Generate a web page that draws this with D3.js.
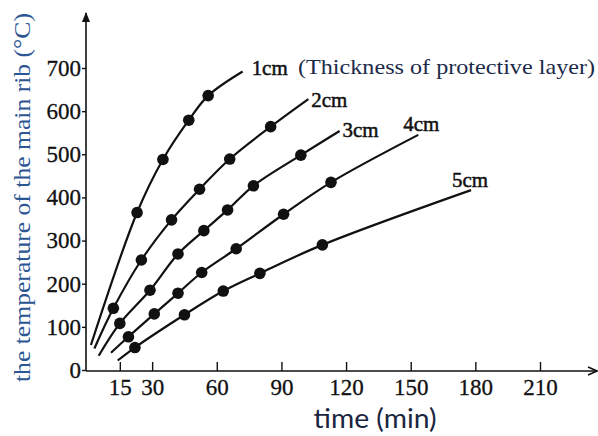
<!DOCTYPE html>
<html>
<head>
<meta charset="utf-8">
<script src="https://cdn.jsdelivr.net/npm/d3@7"></script>
<style>
  html, body { margin: 0; padding: 0; background: #fff; }
  svg { display: block; }
</style>
</head>
<body>
<svg id="chart" width="598" height="436"></svg>
<script>
// ---- data (time in min, temperature in °C) ----
const thickness = ["1cm", "2cm", "3cm", "4cm", "5cm"];
const dotTimes = [
  [23, 35, 47, 56],
  [12, 25, 39, 52, 66, 85],
  [15, 29, 42, 54, 65, 77, 99],
  [19, 31, 42, 53, 69, 91, 113],
  [22, 45, 63, 80, 109]
];
const dotTemps = [
  [365, 488, 579, 636],
  [143, 255, 348, 419, 489, 564],
  [108, 185, 269, 323, 371, 427, 498],
  [77, 130, 178, 226, 281, 361, 435],
  [52, 128, 183, 224, 290]
];
const curveStartTime = [1.6, 3.2, 5.2, 10.9, 14];
const curveStartTemp = [58, 50, 33, 40, 22];
const curveEndTime = [72, 102.5, 117, 153.5, 178];
const curveEndTemp = [692, 628, 554, 545, 417];
const xTicks = [15, 30, 60, 90, 120, 150, 180, 210];
const yTicks = [0, 100, 200, 300, 400, 500, 600, 700];
const xTitle = "time (min)";
const yTitle = "the temperature of the main rib (°C)";
const noteText = "(Thickness of protective layer)";

// ---- layout ----
const svg = d3.select("#chart");
const x = d3.scaleLinear().domain([0, 210]).range([87.5, 540]);
const y = d3.scaleLinear().domain([0, 700]).range([370, 68]);
const axisX = 86, axisY = 371;
const serif = "'Liberation Serif', 'Times New Roman', serif";
const labelOffsets = [[9, 4], [3, 8], [3, 6], [-15, -4], [-19, -3]];

// axes lines with arrows
svg.append("line").attr("x1", axisX).attr("y1", axisY).attr("x2", axisX).attr("y2", 13)
  .attr("stroke", "#111").attr("stroke-width", 1.6);
svg.append("path").attr("d", `M${axisX-4},${22} L${axisX},${12} L${axisX+4},${22} Z`)
  .attr("fill", "#111");
svg.append("line").attr("x1", axisX).attr("y1", axisY).attr("x2", 596).attr("y2", axisY)
  .attr("stroke", "#111").attr("stroke-width", 1.6);
svg.append("path").attr("d", `M${588},${axisY-4} L${597},${axisY} L${588},${axisY+4}`)
  .attr("fill", "none").attr("stroke", "#111").attr("stroke-width", 1.5);

// x axis
const gx = svg.append("g").attr("transform", `translate(0,${axisY})`)
  .call(d3.axisBottom(x).tickValues(xTicks).tickSizeInner(-9).tickSizeOuter(0).tickPadding(8));
gx.select(".domain").remove();
gx.selectAll(".tick line").attr("stroke", "#111").attr("stroke-width", 1.4);
gx.selectAll(".tick text").attr("font-family", serif).attr("font-size", 23)
  .attr("fill", "#111").attr("stroke", "#111").attr("stroke-width", 0.3);

// y axis
const gy = svg.append("g").attr("transform", `translate(${axisX},0)`)
  .call(d3.axisLeft(y).tickValues(yTicks).tickSizeInner(4).tickSizeOuter(0).tickPadding(1));
gy.select(".domain").remove();
gy.selectAll(".tick line").attr("stroke", "#111").attr("stroke-width", 1.4);
gy.selectAll(".tick text").attr("font-family", serif).attr("font-size", 23)
  .attr("fill", "#111").attr("stroke", "#111").attr("stroke-width", 0.3);

// curves
const line = d3.line().x(d => x(d[0])).y(d => y(d[1])).curve(d3.curveCatmullRom.alpha(0.5));
thickness.forEach((name, i) => {
  const pts = [[curveStartTime[i], curveStartTemp[i]]]
    .concat(dotTimes[i].map((t, j) => [t, dotTemps[i][j]]))
    .concat([[curveEndTime[i], curveEndTemp[i]]]);
  svg.append("path").datum(pts).attr("d", line)
    .attr("fill", "none").attr("stroke", "#111").attr("stroke-width", 2.2);
  svg.append("g").selectAll("circle")
    .data(dotTimes[i].map((t, j) => [t, dotTemps[i][j]]))
    .join("circle")
    .attr("cx", d => x(d[0])).attr("cy", d => y(d[1])).attr("r", 5.8).attr("fill", "#111");
  svg.append("text")
    .attr("x", x(curveEndTime[i]) + labelOffsets[i][0])
    .attr("y", y(curveEndTemp[i]) + labelOffsets[i][1])
    .attr("font-family", serif).attr("font-size", 21)
    .attr("fill", "#111").attr("stroke", "#111").attr("stroke-width", 0.5)
    .attr("textLength", 36).attr("lengthAdjust", "spacingAndGlyphs")
    .text(name);
});

// note text
svg.append("text").attr("x", 298).attr("y", 74)
  .attr("font-family", serif).attr("font-size", 22).attr("fill", "#1c2b4a")
  .attr("textLength", 297).attr("lengthAdjust", "spacingAndGlyphs")
  .text(noteText);

// axis titles
svg.append("text").attr("x", 375).attr("y", 428).attr("text-anchor", "middle")
  .attr("font-family", "Lato, 'Open Sans', sans-serif").attr("font-size", 26)
  .attr("fill", "#1a2540").attr("textLength", 123).attr("lengthAdjust", "spacingAndGlyphs")
  .text(xTitle);
svg.append("text").attr("transform", "translate(30,382) rotate(-90)")
  .attr("font-family", serif).attr("font-size", 23)
  .attr("fill", "#2c5593").attr("textLength", 369).attr("lengthAdjust", "spacingAndGlyphs")
  .text(yTitle);
</script>
</body>
</html>
